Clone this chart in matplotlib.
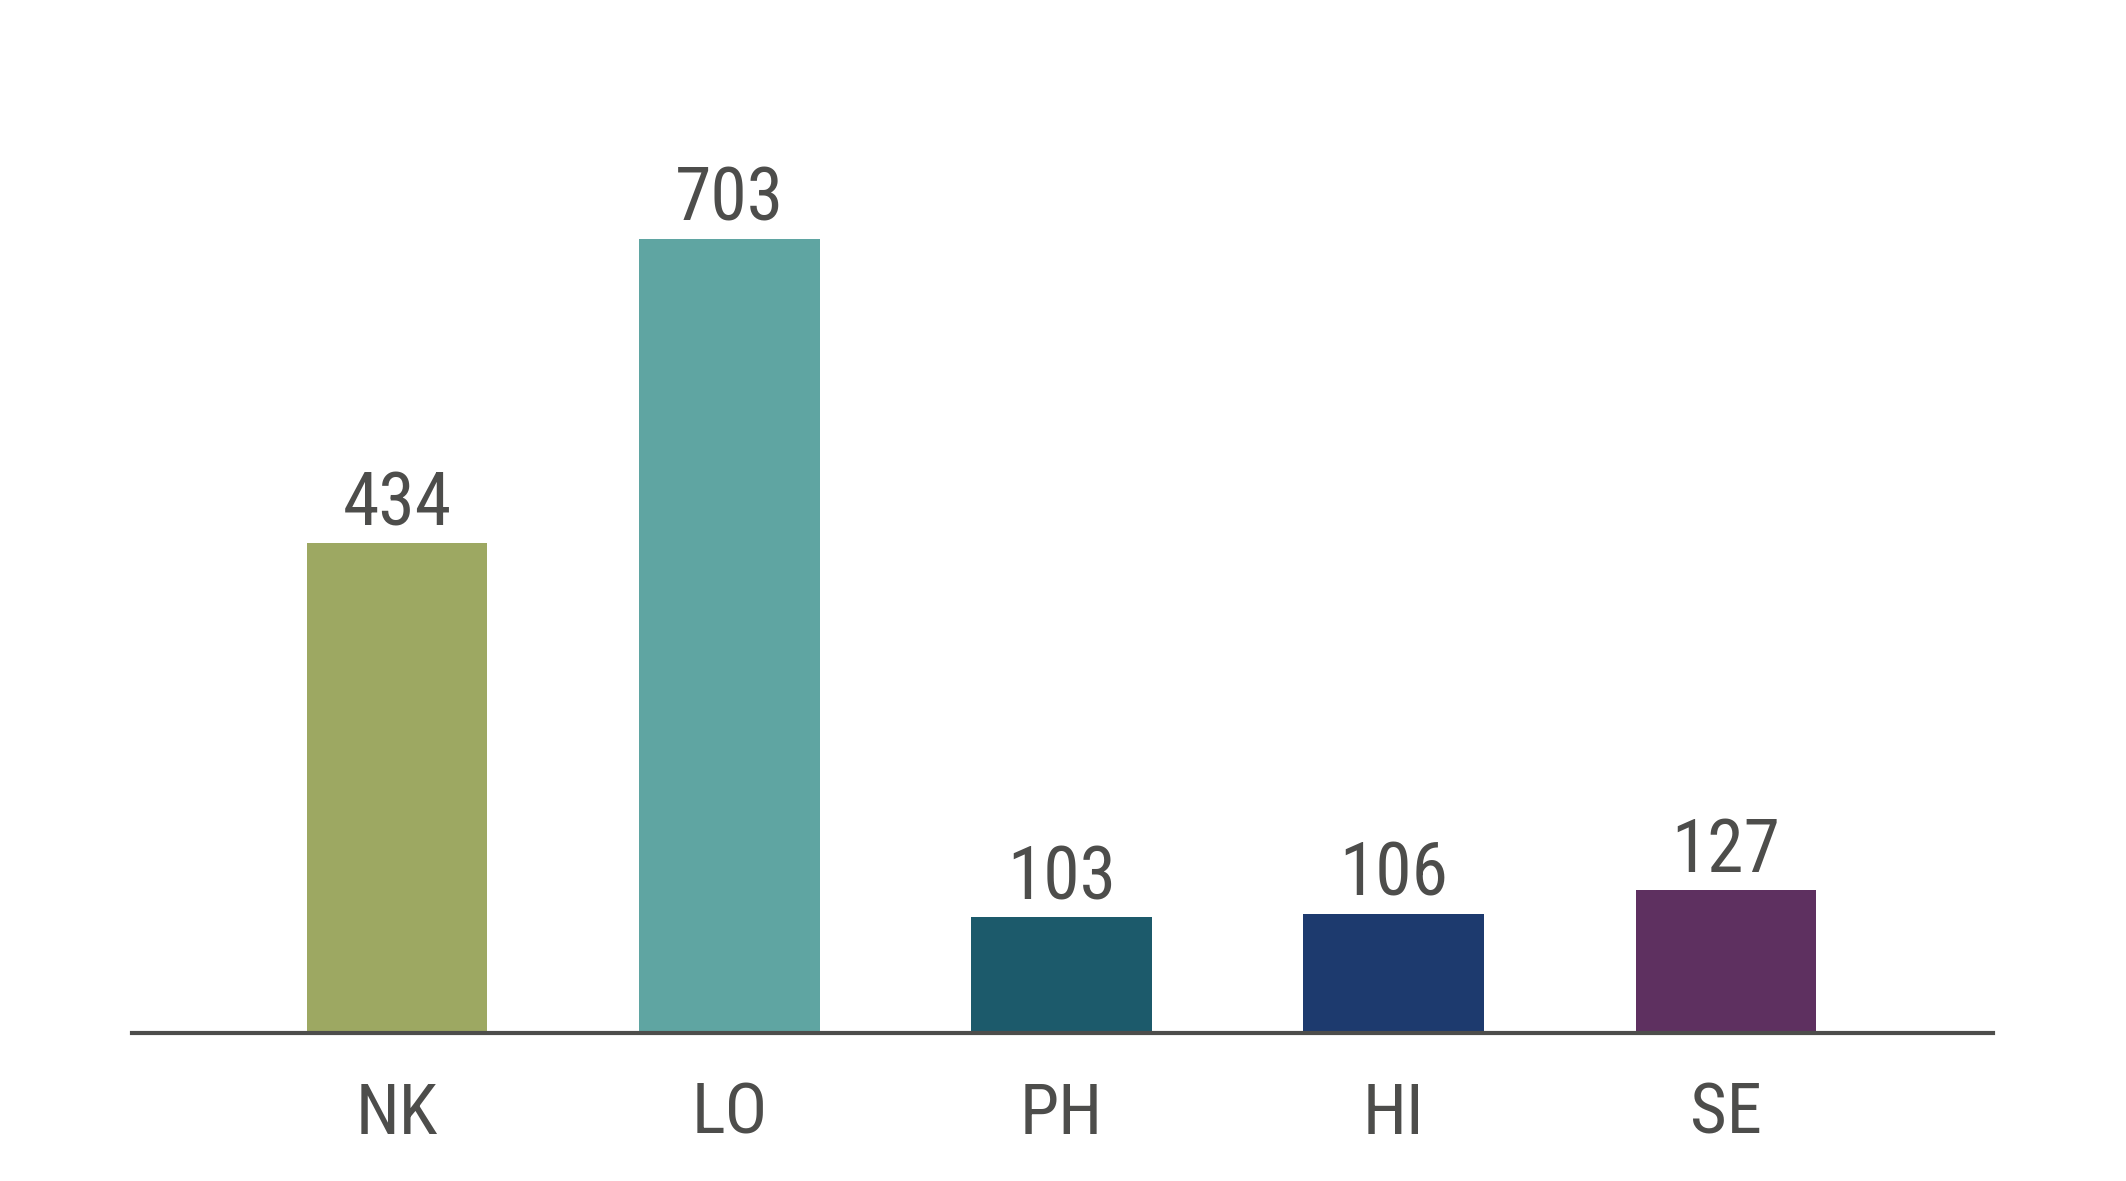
import matplotlib
matplotlib.use("Agg")
import matplotlib.pyplot as plt

# Data.
categories = ["NK", "LO", "PH", "HI", "SE"]
values = [434, 703, 103, 106, 127]
colors = ["#9DA862", "#5FA5A2", "#1C5A6B", "#1D3A6E", "#5E3060"]

text_color = "#4D4D4B"
plt.rcParams["font.family"] = ["Roboto Condensed", "Open Sans Condensed",
                               "Liberation Sans Narrow", "Roboto", "DejaVu Sans"]
plt.rcParams["font.stretch"] = "condensed"

fig = plt.figure(figsize=(21.26, 11.81), dpi=100)
ax = fig.add_axes([0.0619, 0.125, 0.8756, 0.825])

x = range(len(categories))
bars = ax.bar(x, values, width=0.543, color=colors)

for b, v in zip(bars, values):
    ax.annotate(f"{v}", (b.get_x() + b.get_width() / 2, v),
                xytext=(0, 2), textcoords="offset points",
                ha="center", va="bottom", fontsize=53, color=text_color)

ax.set_xlim(-0.8, 4.805)
ax.set_ylim(0, 862)
ax.set_xticks(list(x))
ax.set_xticklabels(categories, fontsize=51, color=text_color)
ax.tick_params(axis="x", length=0, pad=34)
ax.set_yticks([])

for side in ("top", "right", "left"):
    ax.spines[side].set_visible(False)
ax.spines["bottom"].set_color(text_color)
ax.spines["bottom"].set_linewidth(3)

fig.savefig("out.png", dpi=100)
